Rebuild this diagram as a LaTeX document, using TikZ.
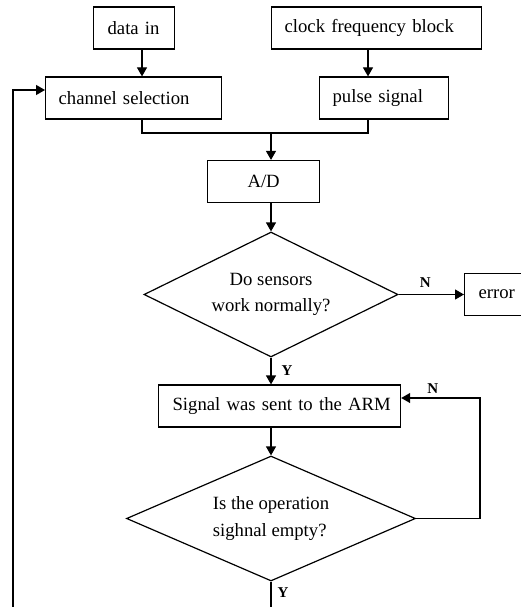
\documentclass[tikz,border=0pt]{standalone}
\usepackage{fontspec}
\setmainfont{Liberation Serif}
\usetikzlibrary{shapes.geometric,arrows.meta}
\newcommand{\lpad}[1]{\hspace*{#1pt}}
\tikzset{
    block/.style={draw, anchor=west, minimum height=42pt, inner sep=0pt, align=left},
    decision/.style={draw, diamond, aspect=2, inner sep=0pt, minimum height=125pt},
    arr/.style={-{Triangle[length=9pt,width=10pt]}},
    lab/.style={font=\fontsize{15}{16}\selectfont\bfseries, inner sep=1pt}
}
\begin{document}
\begin{tikzpicture}[x=1pt, y=-1pt, line width=1.2pt, font=\fontsize{18.7}{26.7}\selectfont]
                \useasboundingbox (0,0) rectangle (521,607);
                \clip (0,0) rectangle (521,607);
                % blocks
                \node[block, text width=81pt] (datain) at (93,28) {\lpad{14}data in};
                \node[block, text width=210pt] (clock) at (271,28) {\lpad{13}clock frequency block};
                \node[block, text width=176pt] (chsel) at (45,98) {\lpad{13}channel selection};
                \node[block, text width=129pt] (pulse) at (319,98) {\lpad{13}pulse signal};
                \node[block, text width=112pt, align=center] (ad) at (207,181.5) {A/D};
                \node[decision, minimum width=254pt, align=center] (sensors) at (271,294.5) {Do sensors\\work normally?};
                \node[block, text width=66pt] (error) at (464,294.5) {\lpad{14}error};
                \node[block, text width=242pt] (signal) at (158,406) {\lpad{14}Signal was sent to the ARM};
                \node[decision, minimum width=289pt, align=left] (empty) at (271,518.5) {Is the operation\\sighnal empty?};
                % axes
                \coordinate (laxis) at (142,0);
                \coordinate (raxis) at (368,0);
                \coordinate (maxis) at (271,0);
                \coordinate (merge) at (271,133);
                \coordinate (nloop) at (480,398);
                \coordinate (bottomleft) at (13,610);
                \coordinate (bottomaxis) at (271,610);
                % connectors
                \draw[arr] (datain.south -| laxis) -- (chsel.north -| laxis);
                \draw[arr] (clock.south -| raxis) -- (pulse.north -| raxis);
                \draw (chsel.south -| laxis) |- (merge) -| (pulse.south -| raxis);
                \draw[arr] (merge) -- (ad.north -| merge);
                \draw[arr] (ad.south -| maxis) -- (sensors.north);
                \draw[arr] (sensors.east) -- node[lab, above=5pt, xshift=-6pt] {N} (error.west);
                \draw[arr] (sensors.south) -- node[lab, right=9pt] {Y} (signal.north -| maxis);
                \draw[arr] (signal.south -| maxis) -- (empty.north);
                \draw[arr] (empty.east) -| (nloop) -- node[lab, above=3pt, pos=0.6] {N} ([yshift=8pt]signal.east);
                \draw (empty.south) -- node[lab, right=5pt, pos=0.4] {Y} (bottomaxis);
                \draw[arr] (bottomleft) |- ([yshift=8pt]chsel.west);
            \end{tikzpicture}
\end{document}
